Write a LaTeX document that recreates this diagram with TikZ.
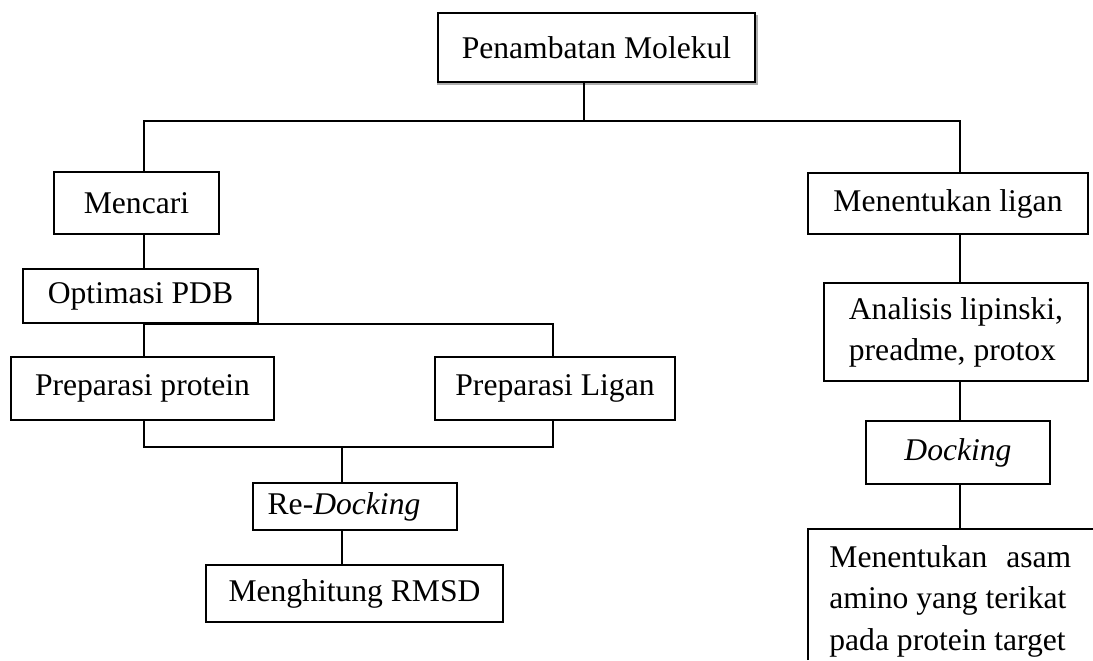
\documentclass[tikz,border=0pt]{standalone}
\usepackage{fontspec}
\setmainfont{Liberation Serif}
\usetikzlibrary{shadows}
\begin{document}
\begin{tikzpicture}[x=0.5pt,y=-0.5pt,
  every node/.style={font=\fontsize{15.8pt}{20.5pt}\selectfont},
  box/.style={draw, line width=0.85pt, inner sep=0pt},
  link/.style={line width=0.85pt}]
\useasboundingbox (0,0) rectangle (1093,660);
% nodes
\node[box, minimum width=158.5pt, minimum height=34.5pt,
  drop shadow={shadow xshift=0.3pt, shadow yshift=-1.4pt, shadow scale=1.012, fill=black!70, opacity=0.45}, fill=white]
  (top) at (596.5,47.5) {Penambatan Molekul};
\node[box, minimum width=82.5pt, minimum height=31pt] (mencari) at (136.5,203) {Mencari};
\node[box, minimum width=117.5pt, minimum height=27pt] (optimasi) at (140.5,296) {Optimasi PDB};
\node[box, minimum width=131.5pt, minimum height=31.5pt] (protein) at (142.5,388.5) {Preparasi protein};
\node[box, minimum width=120pt, minimum height=31.5pt] (ligan) at (555,388.5) {Preparasi Ligan};
\node[box, minimum width=102pt, minimum height=23.5pt] (redock) at (355,506.5) {Re-\textit{Docking}\hspace*{11pt}};
\node[box, minimum width=148.5pt, minimum height=28.5pt] (rmsd) at (354.5,593.5) {Menghitung RMSD};
\node[box, minimum width=140pt, minimum height=30.5pt] (menlig) at (948,203.5) {Menentukan ligan};
\node[box, minimum width=132pt, minimum height=49pt, align=left] (analisis) at (956,332)
  {Analisis lipinski,\\preadme, protox};
\node[box, minimum width=92pt, minimum height=31.5pt] (docking) at (958,452.5) {\textit{Docking}};
\node[anchor=base west, inner sep=0pt] (last) at (829,567)
  {\parbox[t]{119pt}{\fontsize{15.8pt}{20.75pt}\selectfont
   \makebox[119pt][s]{Menentukan\hspace{0.6em}asam}\\amino yang terikat\\pada protein target}};
% frame of last (cut) box
\coordinate (lastnw) at (808,529);
\draw[box] (lastnw |- 0,660) -- (lastnw) -- (1093,529);
% junction coordinates
\coordinate (jt) at (584,121);
\coordinate (bl) at (144,121);
\coordinate (br) at (960,121);
\coordinate (lx) at (553,323);
\coordinate (jb) at (342,447);
% connectors
\draw[link] (top.south -| jt) -- (jt);
\draw[link] (mencari.north -| bl) -- (bl) -- (br) -- (menlig.north -| br);
\draw[link] (mencari.south -| bl) -- (optimasi.north -| bl);
\draw[link] (optimasi.south -| bl) -- (protein.north -| bl);
\draw[link] (optimasi.south -| bl) -| (ligan.north -| lx);
\draw[link] (protein.south -| bl) -- (bl |- jb) -- (lx |- jb) -- (ligan.south -| lx);
\draw[link] (jb) -- (redock.north -| jb);
\draw[link] (redock.south -| jb) -- (rmsd.north -| jb);
\draw[link] (menlig.south -| br) -- (analisis.north -| br);
\draw[link] (analisis.south -| br) -- (docking.north -| br);
\draw[link] (docking.south -| br) -- (lastnw -| br);
\end{tikzpicture}
\end{document}
